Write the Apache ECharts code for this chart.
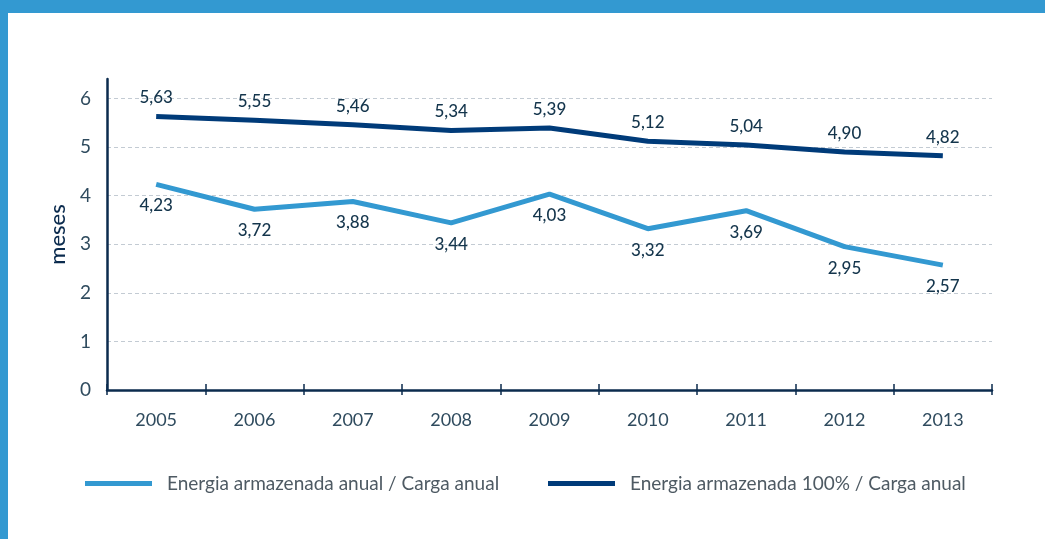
<!DOCTYPE html>
<html><head><meta charset="utf-8">
<script src="https://cdn.jsdelivr.net/npm/echarts@6/dist/echarts.min.js"></script>
<style>
html,body{margin:0;padding:0;background:#fff;}
#c{position:absolute;left:0;top:0;width:1045px;height:539px;}
.bt{position:absolute;left:0;top:0;width:1045px;height:13px;background:#3399d1;}
.bl{position:absolute;left:0;top:0;width:8px;height:539px;background:#3399d1;}
</style></head>
<body>
<div id="c"></div><div class="bt"></div><div class="bl"></div>
<script>
const categories = ['2005','2006','2007','2008','2009','2010','2011','2012','2013'];
const anualValues = [4.23,3.72,3.88,3.44,4.03,3.32,3.69,2.95,2.57];
const cemValues = [5.63,5.55,5.46,5.34,5.39,5.12,5.04,4.90,4.82];
const yTicks = [0,1,2,3,4,5,6];
const seriesNames = ['Energia armazenada anual / Carga anual','Energia armazenada 100% / Carga anual'];
const axisTitle = 'meses';

const light = '#3399d1', dark = '#003b79', navy = '#0b2b4e';
const FONT = 'Lato';
const fmt = p => p.value.toFixed(2).replace('.', ',');

const chart = echarts.init(document.getElementById('c'));
chart.setOption({
  animation:false,
  textStyle:{fontFamily:FONT},
  grid:{left:107,right:53,top:79,bottom:149},
  legend:[
    {data:[seriesNames[0]],left:85,top:474,padding:0,icon:'rect',itemWidth:67,itemHeight:5,
     textStyle:{fontFamily:FONT,fontSize:19,color:'#4e5a63',padding:[0,0,0,10]}},
    {data:[seriesNames[1]],left:548,top:474,padding:0,icon:'rect',itemWidth:67,itemHeight:5,
     textStyle:{fontFamily:FONT,fontSize:19,color:'#4e5a63',padding:[0,0,0,10]}}
  ],
  xAxis:[
    {type:'category',data:categories,boundaryGap:true,
     axisLine:{lineStyle:{color:navy,width:2.5}},
     axisTick:{show:true,inside:false,length:5,lineStyle:{color:navy,width:1.5}},
     axisLabel:{fontFamily:FONT,fontSize:18,color:'#2f4b5e',margin:21}},
    {type:'category',data:categories,boundaryGap:true,position:'bottom',
     axisLine:{show:false},
     axisTick:{show:true,inside:true,length:6,lineStyle:{color:navy,width:1.5}},
     axisLabel:{show:false}}
  ],
  yAxis:{type:'value',min:0,max:6.4,interval:1,
    name:axisTitle,nameLocation:'middle',nameGap:38,nameRotate:90,
    nameTextStyle:{fontFamily:FONT,fontSize:22,fontWeight:500,color:navy},
    axisLine:{show:true,lineStyle:{color:navy,width:2.5}},
    axisTick:{show:false},
    axisLabel:{fontFamily:FONT,fontSize:19,color:'#2f4b5e',margin:16,showMaxLabel:false,
      formatter:v => yTicks.includes(v) ? String(v) : ''},
    splitLine:{show:true,showMaxLine:false,lineStyle:{color:'#c3cbd3',type:[4,3],width:1}}
  },
  series:[
    {name:seriesNames[0],type:'line',data:anualValues,symbol:'circle',symbolSize:0,showSymbol:true,
     lineStyle:{color:light,width:5},itemStyle:{color:light},
     label:{show:true,position:'bottom',distance:13,formatter:fmt,
       fontFamily:FONT,fontSize:17,fontWeight:500,color:'#14354c'}},
    {name:seriesNames[1],type:'line',data:cemValues,symbol:'circle',symbolSize:0,showSymbol:true,
     lineStyle:{color:dark,width:5},itemStyle:{color:dark},
     label:{show:true,position:'top',distance:10,formatter:fmt,
       fontFamily:FONT,fontSize:17,fontWeight:500,color:'#14354c'}}
  ]
});
</script>
</body></html>
